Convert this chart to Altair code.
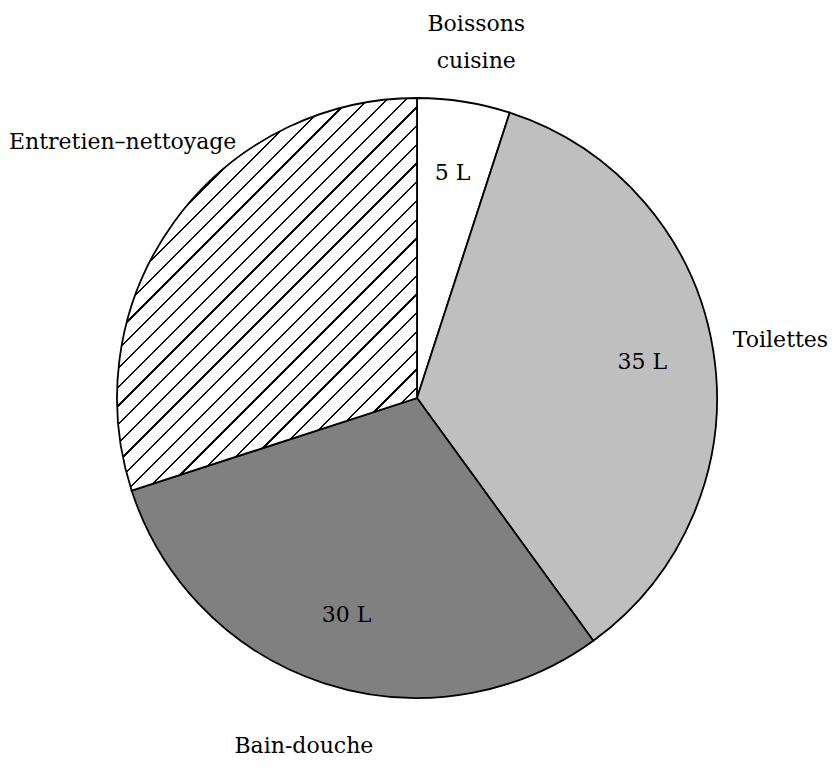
import math
import altair as alt
import pandas as pd

# ---- data ----
categories = ["Boissons cuisine", "Toilettes", "Bain-douche", "Entretien–nettoyage"]
outer_labels = ["Boissons\ncuisine", "Toilettes", "Bain-douche", "Entretien–nettoyage"]
litres = [5, 35, 30, 30]
inner_labels = ["5 L", "35 L", "30 L", ""]
palette = ["#ffffff", "#bfbfbf", "#808080", "#ffffff"]
hatched = "Entretien–nettoyage"

df = pd.DataFrame({
    "cat": categories,
    "outer": outer_labels,
    "litres": litres,
    "inner": inner_labels,
    "idx": list(range(len(categories))),
})

# ---- layout (not data): pie geometry and per-label placement ----
R = 300
CX, CY = 409, 390
FONT = "DejaVu Serif"
FS = 22
label_radius = [379, 368, 366, 390]
label_dtheta_deg = [0, 0, 0, 5]

# hatch pattern for the hatched slice: a striped linear gradient in the slice's bbox
total = sum(litres)
k = categories.index(hatched)
a0 = 2 * math.pi * sum(litres[:k]) / total
a1 = 2 * math.pi * sum(litres[:k + 1]) / total
pts = [(0.0, 0.0)]
for a in [a0, a1] + [j * math.pi / 2 for j in range(5) if a0 <= j * math.pi / 2 <= a1]:
    pts.append((R * math.sin(a), -R * math.cos(a)))
xs = [p[0] for p in pts]
ys = [p[1] for p in pts]
w = max(xs) - min(xs)
h = max(ys) - min(ys)
s = (w + h) / (w * w + h * h)
span = (w + h) / math.sqrt(2)
n = max(1, round(span / 13.2))
t = 1.6 / span
stops = [{"offset": 0, "color": "white"}]
for i in range(n):
    o = (i + 0.5) / n
    stops += [
        {"offset": o - t / 2, "color": "white"},
        {"offset": o - t / 2, "color": "black"},
        {"offset": o + t / 2, "color": "black"},
        {"offset": o + t / 2, "color": "white"},
    ]
stops.append({"offset": 1, "color": "white"})
hatch = {"gradient": "linear", "x1": 0, "y1": 0, "x2": w * s, "y2": h * s, "stops": stops}

base = alt.Chart(df).encode(
    theta=alt.Theta("litres:Q", stack=True),
    order=alt.Order("idx:Q"),
)

pie = base.mark_arc(outerRadius=R, stroke="black", strokeWidth=1.8, x=CX, y=CY).encode(
    fill=alt.condition(
        alt.datum.cat == hatched,
        alt.value(hatch),
        alt.Fill("cat:N", scale=alt.Scale(domain=categories, range=palette), legend=None),
    )
)

inner = base.mark_text(
    radius=228, x=CX, y=CY, font=FONT, fontSize=FS, color="black",
    align="center", baseline="middle",
).encode(text="inner:N")

outer_layers = []
for i in range(len(categories)):
    layer = (
        alt.Chart(df)
        .transform_window(cum="sum(litres)", sort=[alt.SortField("idx")], frame=[None, 0])
        .transform_calculate(mid="datum.cum - datum.litres / 2")
        .transform_filter(alt.datum.idx == i)
        .mark_text(
            radius=label_radius[i], thetaOffset=math.radians(label_dtheta_deg[i]),
            x=CX, y=CY, font=FONT, fontSize=FS, color="black",
            align="center", baseline="middle", lineBreak="\n", lineHeight=37,
        )
        .encode(
            theta=alt.Theta("mid:Q", stack=False, scale=alt.Scale(domain=[0, total])),
            text="outer:N",
        )
    )
    outer_layers.append(layer)

chart = (
    alt.layer(pie, inner, *outer_layers)
    .properties(width=822, height=753, padding=0, autosize=alt.AutoSizeParams(type="none"))
    .configure_view(stroke=None)
)

chart.save("out.html", embed_options={"renderer": "svg", "actions": False})
